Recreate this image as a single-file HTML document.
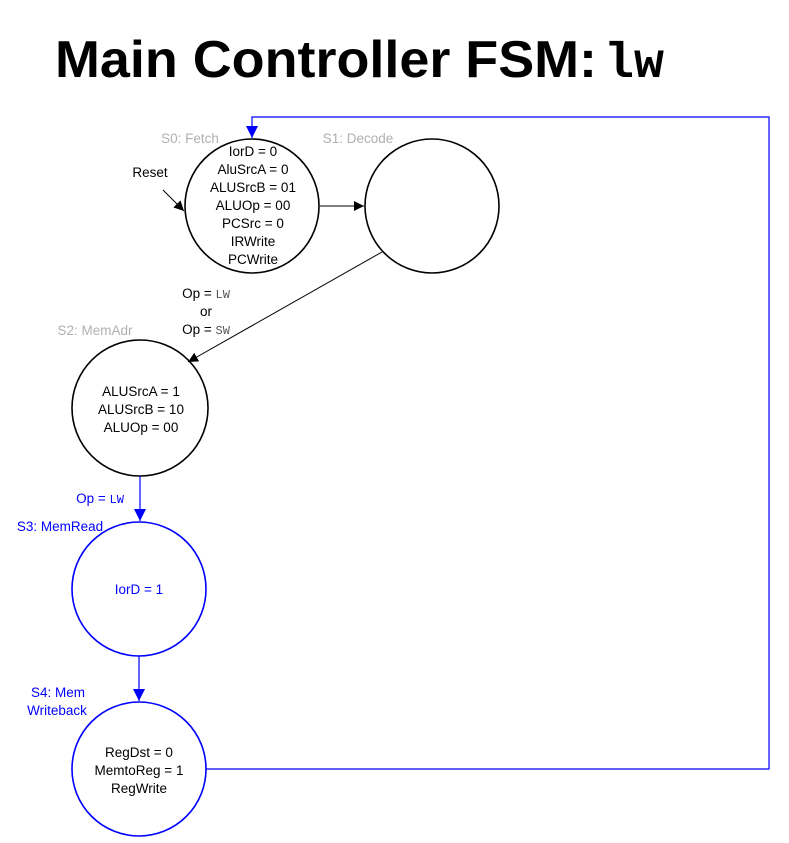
<!DOCTYPE html>
<html><head><meta charset="utf-8"><style>
html,body{margin:0;padding:0;background:#fff;}
svg{display:block;}
</style></head><body>
<svg width="789" height="843" viewBox="0 0 789 843" xmlns="http://www.w3.org/2000/svg">
<defs>
<marker id="ab" viewBox="0 0 10 10" refX="10" refY="5" markerWidth="10" markerHeight="10" markerUnits="userSpaceOnUse" orient="auto"><path d="M0,0 L10,5 L0,10 z" fill="#000"/></marker>
<marker id="ablue" viewBox="0 0 10 10" refX="10" refY="5" markerWidth="12" markerHeight="12" markerUnits="userSpaceOnUse" orient="auto"><path d="M0,0 L10,5 L0,10 z" fill="#0000ff"/></marker>
</defs>
<text x="55" y="77" font-family="Liberation Sans, sans-serif" font-weight="bold" font-size="52" textLength="542" lengthAdjust="spacingAndGlyphs">Main Controller FSM:</text>
<text x="604" y="77" font-family="Liberation Mono, monospace" font-weight="bold" font-size="50" textLength="60" lengthAdjust="spacingAndGlyphs">lw</text>

<g fill="none" stroke-width="1.6">
<circle cx="252" cy="206" r="67" stroke="#000"/>
<circle cx="432" cy="206" r="67" stroke="#000"/>
<circle cx="140" cy="408" r="68" stroke="#000"/>
<circle cx="139" cy="589" r="67" stroke="#0000ff"/>
<circle cx="139" cy="769" r="67" stroke="#0000ff"/>
</g>
<g stroke="#000" stroke-width="1" fill="none">
<line x1="320" y1="206" x2="364" y2="206" marker-end="url(#ab)"/>
<line x1="382" y1="252" x2="188" y2="362" marker-end="url(#ab)"/>
<line x1="163" y1="190" x2="184" y2="211" marker-end="url(#ab)"/>
</g>
<g stroke="#0000ff" stroke-width="1.2" fill="none">
<line x1="140" y1="476" x2="140" y2="521" marker-end="url(#ablue)"/>
<line x1="139" y1="656" x2="139" y2="701" marker-end="url(#ablue)"/>
<polyline points="206,769 769,769 769,117 252,117 252,138" marker-end="url(#ablue)"/>
</g>

<g font-family="Liberation Sans, sans-serif" font-size="13.5" text-anchor="middle">
<text x="190" y="143" fill="#b0b0b0">S0: Fetch</text>
<text x="358" y="143" fill="#b0b0b0">S1: Decode</text>
<text x="95" y="335" fill="#b0b0b0">S2: MemAdr</text>
<text x="150" y="177" fill="#000">Reset</text>
<g fill="#000">
<text x="253" y="156">IorD = 0</text>
<text x="253" y="174">AluSrcA = 0</text>
<text x="253" y="192">ALUSrcB = 01</text>
<text x="253" y="210">ALUOp = 00</text>
<text x="253" y="228">PCSrc = 0</text>
<text x="253" y="246">IRWrite</text>
<text x="253" y="264">PCWrite</text>
<text x="141" y="396">ALUSrcA = 1</text>
<text x="141" y="414">ALUSrcB = 10</text>
<text x="141" y="432">ALUOp = 00</text>
<text x="139" y="757">RegDst = 0</text>
<text x="139" y="775">MemtoReg = 1</text>
<text x="139" y="793">RegWrite</text>
<text x="206" y="298">Op = <tspan font-family="Liberation Mono, monospace" fill="#555" font-size="12">LW</tspan></text>
<text x="206" y="316">or</text>
<text x="206" y="334">Op = <tspan font-family="Liberation Mono, monospace" fill="#555" font-size="12">SW</tspan></text>
</g>
<g fill="#0000ff">
<text x="100" y="503">Op = <tspan font-family="Liberation Mono, monospace" font-size="12">LW</tspan></text>
<text x="60" y="531">S3: MemRead</text>
<text x="139" y="594">IorD = 1</text>
<text x="58" y="697">S4: Mem</text>
<text x="57" y="715">Writeback</text>
</g>
</g>
</svg>
</body></html>
